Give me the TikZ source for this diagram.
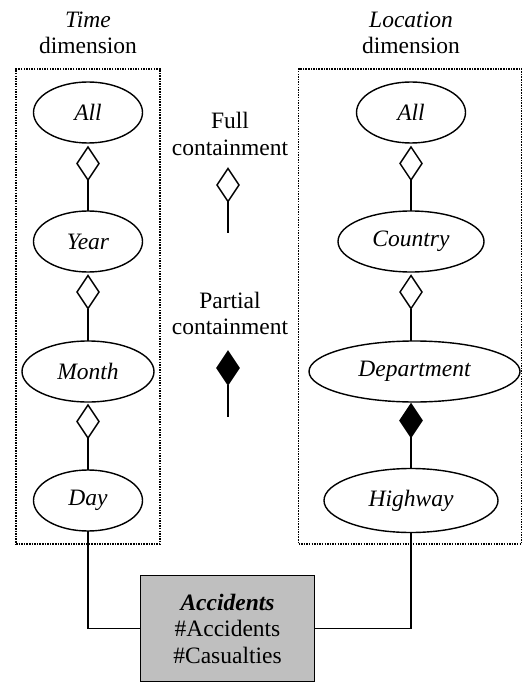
\documentclass[tikz,border=0pt]{standalone}
\usepackage{fontspec}
\setmainfont{Liberation Serif}
\usetikzlibrary{shapes.geometric}
\newcommand{\labelsize}{\fontsize{23.5}{26.5}\selectfont}
\tikzset{
  x=1pt,y=-1pt,
  level/.style={draw=black,line width=1.4pt,ellipse,inner sep=0pt,outer sep=0pt,minimum height=61pt,font=\labelsize\itshape},
  rel/.style={draw=black,line width=1.4pt,diamond,inner sep=0pt,outer sep=0pt,minimum width=22pt,minimum height=33pt},
  full/.style={rel,fill=white},
  partial/.style={rel,fill=black},
  link/.style={draw=black,line width=1.4pt},
  dimbox/.style={draw=black,line width=1.4pt,dash pattern=on 1.5pt off 1.1pt,rectangle,inner sep=0pt,outer sep=0pt},
  caption/.style={align=center,inner sep=0pt,font=\labelsize},
  fact/.style={draw=black,line width=1.4pt,fill=black!25,rectangle,inner sep=0pt,outer sep=0pt,minimum width=174pt,minimum height=106pt,align=center,font=\labelsize}
}
\begin{document}
\begin{tikzpicture}
\useasboundingbox (0,0) rectangle (523,684);
\node[dimbox,minimum width=144pt,minimum height=475pt] (tbox) at (88,306.5) {};
\node[dimbox,minimum width=223pt,minimum height=475pt] (lbox) at (410,306.5) {};

\node[caption] (tcap) at (88,33) {\textit{Time}\\dimension};
\node[caption] (lcap) at (411,33) {\textit{Location}\\dimension};

% time
\node[level,minimum width=109pt] (tall) at (88,112.5) {All};
\node[level,minimum width=109pt] (year) at (88,241.5) {Year};
\node[level,minimum width=132pt] (month) at (88,371.5) {Month};
\node[level,minimum width=109pt] (day) at (88,500.5) {Day};
\node[full] (d1) at (88,163.5) {};
\node[full] (d2) at (88,292) {};
\node[full] (d3) at (88,421.5) {};
\draw[link] (d1.south) -- (year.north);
\draw[link] (d2.south) -- (month.north);
\draw[link] (d3.south) -- (day.north);

% location
\node[level,minimum width=109pt] (lall) at (411,112.5) {All};
\node[level,minimum width=146pt] (country) at (411,241.5) {Country};
\node[level,minimum width=211pt] (dept) at (414.5,371.5) {Department};
\node[level,minimum width=174pt,minimum height=64pt] (highway) at (411,500.5) {Highway};
\node[full] (l1) at (411,163.5) {};
\node[full] (l2) at (411,292) {};
\node[partial] (l3) at (411,420.5) {};
\draw[link] (l1.south) -- (country.north);
\draw[link] (l2.south) -- (l2.south |- dept.north);
\draw[link] (l3.south) -- (highway.north);

% legend
\node[caption] (fullcap) at (230,134) {Full\\containment};
\node[full] (lf) at (228,185) {};
\coordinate (lfend) at (228,233);
\draw[link] (lf.south) -- (lfend);
\node[caption] (partcap) at (230,313.5) {Partial\\containment};
\node[partial] (lp) at (228,368) {};
\coordinate (lpend) at (228,417);
\draw[link] (lp.south) -- (lpend);

% fact
\node[fact] (acc) at (227.5,628.5) {\textbf{\textit{Accidents}}\\\#Accidents\\\#Casualties};
\draw[link] (day.south) |- (acc.west);
\draw[link] (acc.east) -| (highway.south);
\end{tikzpicture}
\end{document}
